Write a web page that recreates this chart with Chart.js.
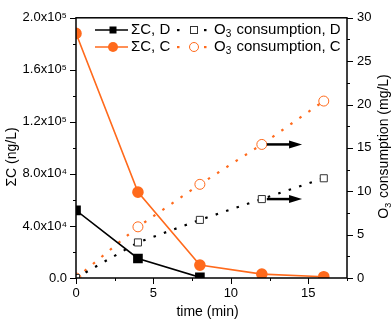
<!DOCTYPE html>
<html>
<head>
<meta charset="utf-8">
<script src="https://cdn.jsdelivr.net/npm/chart.js@4.4.1/dist/chart.umd.min.js"></script>
<style>
  html, body { margin: 0; padding: 0; background: #fff; }
  #wrap { width: 392px; height: 322px; }
</style>
</head>
<body>
<div id="wrap"><canvas id="ozoneChart"></canvas></div>
<script>
const times = [0, 4, 8, 12, 16];
const sumC_D = [52000, 15000, 500];
const sumC_C = [188000, 66000, 9900, 3000, 1000];
const o3_D = [0, 4.1, 6.7, 9.1, 11.5];
const o3_C = [0, 5.9, 10.8, 15.4, 20.4];
const arrowStarts = [[12, 15.4], [12, 9.1]]; // [time, O3 value]
const arrowEnd = 14.6;

const orange = '#ff6a1c';
const sup = { 4: '\u2074', 5: '\u2075' };
const FONT = '"Liberation Sans", Arial, sans-serif';

function pts(ys) {
    return ys.map((y, i) => ({ x: times[i], y: y }));
}

Chart.defaults.font.family = FONT;
Chart.defaults.font.size = 13;
Chart.defaults.color = '#000';

// text with subscript parts, e.g. O + 3 + rest
function drawRich(ctx, parts, x, y, size) {
    for (const [txt, sub] of parts) {
        ctx.font = (sub ? Math.round(size * 0.65) : size) + 'px ' + FONT;
        ctx.fillText(txt, x, y + (sub ? size * 0.3 : 0));
        x += ctx.measureText(txt).width + (sub ? 1 : 0);
    }
    return x;
}

const decorations = {
    id: 'decorations',
    afterDatasetsDraw(chart) {
        const { ctx, scales } = chart;
        ctx.save();
        // arrows
        ctx.strokeStyle = '#000';
        ctx.fillStyle = '#000';
        ctx.lineWidth = 2.5;
        arrowStarts.forEach(([t, v]) => {
            const x0 = scales.x.getPixelForValue(t) + 5;
            const x1 = scales.x.getPixelForValue(arrowEnd);
            const y = scales.y2.getPixelForValue(v);
            ctx.beginPath();
            ctx.moveTo(x0, y);
            ctx.lineTo(x1 - 10, y);
            ctx.stroke();
            ctx.beginPath();
            ctx.moveTo(x1, y);
            ctx.lineTo(x1 - 13, y - 4);
            ctx.lineTo(x1 - 13, y + 4);
            ctx.closePath();
            ctx.fill();
        });
        ctx.restore();
    },
    afterDraw(chart) {
        const { ctx, chartArea: a, scales } = chart;
        ctx.save();
        ctx.strokeStyle = '#000';
        ctx.lineWidth = 1.5;
        ctx.strokeRect(a.left, a.top, a.right - a.left, a.bottom - a.top);

        // tick marks, major ones longer
        ctx.lineWidth = 1;
        ctx.beginPath();
        scales.x.ticks.forEach(t => {
            const x = Math.round(scales.x.getPixelForValue(t.value)) + 0.5;
            const len = t.value % 5 === 0 ? 6 : 3;
            ctx.moveTo(x, a.bottom);
            ctx.lineTo(x, a.bottom + len);
        });
        scales.y.ticks.forEach(t => {
            const y = Math.round(scales.y.getPixelForValue(t.value)) + 0.5;
            const len = t.value % 40000 === 0 ? 6 : 3;
            ctx.moveTo(a.left, y);
            ctx.lineTo(a.left - len, y);
        });
        scales.y2.ticks.forEach(t => {
            const y = Math.round(scales.y2.getPixelForValue(t.value)) + 0.5;
            const len = t.value % 5 === 0 ? 6 : 3;
            ctx.moveTo(a.right, y);
            ctx.lineTo(a.right + len, y);
        });
        ctx.stroke();

        // axis titles
        ctx.fillStyle = '#000';
        ctx.textBaseline = 'middle';
        ctx.textAlign = 'center';
        ctx.font = '14px ' + FONT;
        ctx.fillText('time (min)', (a.left + a.right) / 2 - 4, 312);
        ctx.save();
        ctx.translate(12, 157);
        ctx.rotate(-Math.PI / 2);
        ctx.fillText('\u03a3C (ng/L)', 0, 0);
        ctx.restore();
        ctx.save();
        ctx.translate(384, 146);
        ctx.rotate(-Math.PI / 2);
        ctx.textAlign = 'left';
        const w = ctx.measureText('O consumption (mg/L)').width + 7;
        drawRich(ctx, [['O', 0], ['3', 1], [' consumption (mg/L)', 0]], -w / 2, 0, 14);
        ctx.restore();

        // legend, two columns inside the plot
        const rows = [30, 47];
        ctx.textAlign = 'left';
        [['#000', 'rect', '\u03a3C, D'], [orange, 'circle', '\u03a3C, C']].forEach(([c, shape, label], i) => {
            const y = rows[i];
            ctx.strokeStyle = c;
            ctx.fillStyle = c;
            ctx.lineWidth = 1.6;
            ctx.beginPath();
            ctx.moveTo(95, y);
            ctx.lineTo(128, y);
            ctx.stroke();
            if (shape === 'rect') ctx.fillRect(109.5, y - 3.5, 7, 7);
            else { ctx.beginPath(); ctx.arc(113, y, 5, 0, Math.PI * 2); ctx.fill(); }
            ctx.fillStyle = '#000';
            ctx.font = '15px ' + FONT;
            ctx.fillText(label, 131, y);
        });
        [['#000', 'rect', ', D'], [orange, 'circle', ', C']].forEach(([c, shape, label], i) => {
            const y = rows[i];
            ctx.fillStyle = c;
            ctx.fillRect(177, y - 1, 2.5, 2.2);
            ctx.fillRect(204, y - 1, 2.5, 2.2);
            ctx.lineWidth = 1;
            ctx.fillStyle = '#fff';
            if (shape === 'rect') {
                ctx.strokeStyle = '#333';
                ctx.fillRect(190.5, y - 3.5, 7, 7);
                ctx.strokeRect(190.5, y - 3.5, 7, 7);
            } else {
                ctx.strokeStyle = orange;
                ctx.beginPath(); ctx.arc(194, y, 4.5, 0, Math.PI * 2); ctx.fill(); ctx.stroke();
            }
            ctx.fillStyle = '#000';
            drawRich(ctx, [['O', 0], ['3', 1], [' consumption' + label, 0]], 214, y, 15);
        });
        ctx.restore();
    }
};

const ctx = document.getElementById('ozoneChart').getContext('2d');
const ozoneChart = new Chart(ctx, {
    type: 'line',
    data: {
        datasets: [
            {
                label: '\u03a3C, D',
                data: pts(sumC_D),
                yAxisID: 'y',
                borderColor: '#000',
                backgroundColor: '#000',
                borderWidth: 1.6,
                pointStyle: 'rect',
                pointRadius: 5.7
            },
            {
                label: '\u03a3C, C',
                data: pts(sumC_C),
                yAxisID: 'y',
                borderColor: orange,
                backgroundColor: orange,
                borderWidth: 1.6,
                pointStyle: 'circle',
                pointRadius: 5
            },
            {
                label: 'O\u2083 consumption, D',
                data: pts(o3_D),
                yAxisID: 'y2',
                borderColor: '#000',
                borderWidth: 2.2,
                borderDash: [2.5, 8.5],
                pointStyle: 'rect',
                pointRadius: 5,
                pointBorderWidth: 1,
                pointBorderColor: '#333',
                pointBackgroundColor: '#fff'
            },
            {
                label: 'O\u2083 consumption, C',
                data: pts(o3_C),
                yAxisID: 'y2',
                borderColor: orange,
                borderWidth: 2.2,
                borderDash: [2.5, 8.5],
                pointStyle: 'circle',
                pointRadius: 5,
                pointBorderWidth: 1,
                pointBorderColor: orange,
                pointBackgroundColor: '#fff'
            }
        ]
    },
    options: {
        responsive: true,
        maintainAspectRatio: false,
        animation: false,
        layout: { padding: { top: 8, left: 0, right: 0, bottom: 0 } },
        elements: { line: { tension: 0 } },
        scales: {
            x: {
                type: 'linear',
                min: 0,
                max: 17.5,
                grid: { display: false, drawTicks: false },
                border: { display: false },
                ticks: {
                    stepSize: 2.5,
                    padding: 8,
                    maxRotation: 0,
                    callback: v => (v % 5 === 0 ? String(v) : '')
                },
                afterFit: s => { s.height = 44; }
            },
            y: {
                position: 'left',
                min: 0,
                max: 200000,
                grid: { display: false, drawTicks: false },
                border: { display: false },
                ticks: {
                    stepSize: 20000,
                    padding: 9,
                    callback: v => {
                        if (v % 40000 !== 0) return '';
                        if (v === 0) return '0.0';
                        const e = Math.floor(Math.log10(v));
                        return (v / Math.pow(10, e)).toFixed(1) + 'x10' + sup[e];
                    }
                },
                afterFit: s => { s.width = 76; }
            },
            y2: {
                position: 'right',
                min: 0,
                max: 30,
                grid: { display: false, drawTicks: false },
                border: { display: false },
                ticks: {
                    stepSize: 2.5,
                    padding: 10,
                    callback: v => (v % 5 === 0 ? String(v) : '')
                },
                afterFit: s => { s.width = 45; }
            }
        },
        plugins: {
            legend: { display: false },
            tooltip: { enabled: false }
        }
    },
    plugins: [decorations]
});
</script>
</body>
</html>
